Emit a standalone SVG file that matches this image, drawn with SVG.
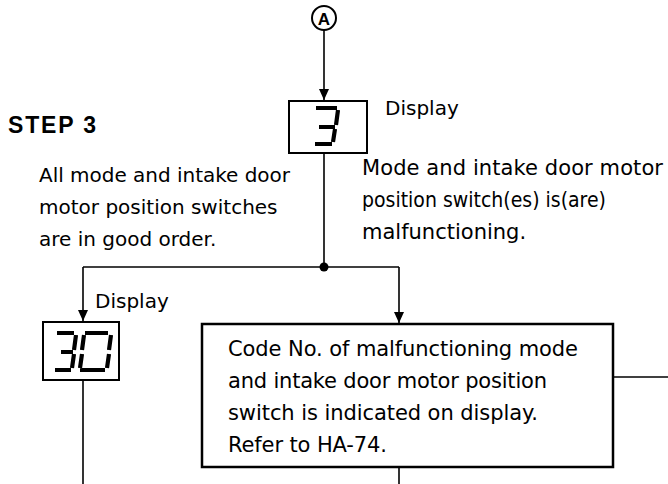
<svg xmlns="http://www.w3.org/2000/svg" width="668" height="484" viewBox="0 0 668 484">
<defs>
<style>
.t{font-family:"DejaVu Sans","Liberation Sans",sans-serif;fill:#000}
.s20{font-size:20px}
.s21{font-size:21px}
.bold{font-weight:bold}
.box{fill:#fff;stroke:#000;stroke-width:2}
.big{fill:#fff;stroke:#000;stroke-width:2.5}
.ln{fill:none;stroke:#000;stroke-width:1.6}
.seg{fill:none;stroke:#000;stroke-width:4.2;stroke-linecap:butt}
</style>
<marker id="arr" viewBox="0 0 11 10" refX="11" refY="5" markerWidth="11" markerHeight="10" markerUnits="userSpaceOnUse" orient="auto" preserveAspectRatio="none">
<path d="M0,0 L11,5 L0,10 z" fill="#000"/>
</marker>
</defs>
<rect width="668" height="484" fill="#fff"/>

<g id="connectors">
<path class="ln" d="M324,30 L324,100" marker-end="url(#arr)"/>
<path class="ln" d="M324,153 L324,267"/>
<path class="ln" d="M83,267 L399,267"/>
<path class="ln" d="M83,267 L83,321" marker-end="url(#arr)"/>
<path class="ln" d="M399,267 L399,323" marker-end="url(#arr)"/>
<path class="ln" d="M83,380 L83,484"/>
<path class="ln" d="M399,466 L399,484"/>
<path class="ln" d="M613,377 L668,377"/>
<circle cx="324" cy="267" r="4.5" fill="#000"/>
</g>

<g id="nodeA">
<circle cx="324" cy="18" r="12" fill="#fff" stroke="#000" stroke-width="2"/>
<text x="324" y="24.5" font-family="'Liberation Sans',Arial,sans-serif" font-weight="bold" font-size="17" text-anchor="middle">A</text>
</g>

<g id="step3">
<text x="8" y="133" font-family="'Liberation Sans',Arial,sans-serif" font-weight="bold" font-size="23" textLength="88" lengthAdjust="spacing">STEP 3</text>
</g>

<g id="display3">
<rect class="box" x="289" y="101" width="78" height="52"/>
<path class="seg" d="M316,108 L337,108 M338,110 L336,125 M319,127 L335,127 M335,129 L333,142 M315,144 L332,144"/>
<text class="t s20" x="385" y="115">Display</text>
</g>

<g id="labelGood">
<text class="t s20" x="39" y="182" textLength="251" lengthAdjust="spacing">All mode and intake door</text>
<text class="t s20" x="39" y="214">motor position switches</text>
<text class="t s20" x="39" y="246">are in good order.</text>
</g>

<g id="labelBad">
<text class="t s21" x="362" y="175" textLength="301" lengthAdjust="spacing">Mode and intake door motor</text>
<text class="t s21" x="362" y="207" textLength="244" lengthAdjust="spacingAndGlyphs">position switch(es) is(are)</text>
<text class="t s21" x="362" y="239">malfunctioning.</text>
</g>

<g id="display30">
<rect class="box" x="43" y="322" width="76" height="58"/>
<path class="seg" d="M57,333 L74,333 M76,335 L74,350 M61,352 L73,352 M74,354 L72,368 M55,370 L71,370"/>
<path class="seg" d="M85,333 L108,333 M84,335 L82,350 M82,354 L80,368 M111,335 L109,350 M109,354 L107,368 M80,370 L105,370"/>
<text class="t s20" x="95" y="308">Display</text>
</g>

<g id="codeBox">
<rect class="big" x="202" y="324" width="411" height="143"/>
<text class="t s21" x="228" y="356" textLength="350" lengthAdjust="spacing">Code No. of malfunctioning mode</text>
<text class="t s21" x="228" y="388" textLength="319" lengthAdjust="spacing">and intake door motor position</text>
<text class="t s21" x="228" y="420" textLength="310" lengthAdjust="spacing">switch is indicated on display.</text>
<text class="t s21" x="228" y="452" textLength="159" lengthAdjust="spacing">Refer to HA-74.</text>
</g>
</svg>
